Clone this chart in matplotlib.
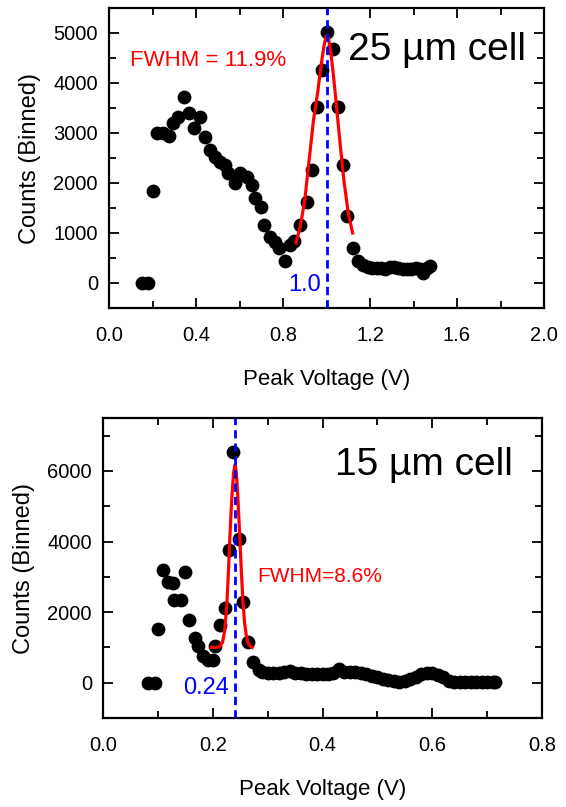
import matplotlib
matplotlib.use("Agg")
import matplotlib.pyplot as plt
from matplotlib.ticker import MultipleLocator

plt.rcParams['font.family'] = ['Liberation Sans', 'DejaVu Sans']

# ---- 25 um cell (top) ----
v25 = [0.150, 0.180, 0.204, 0.219, 0.250, 0.276, 0.293, 0.319, 0.346, 0.369,
       0.392, 0.418, 0.441, 0.464, 0.487, 0.510, 0.533, 0.549, 0.579, 0.602,
       0.633, 0.656, 0.671, 0.699, 0.713, 0.740, 0.763, 0.783, 0.809, 0.830,
       0.852, 0.880, 0.909, 0.932, 0.955, 0.978, 1.000, 1.031, 1.054, 1.074,
       1.096, 1.120, 1.146, 1.170, 1.190, 1.210, 1.230, 1.250, 1.270, 1.290,
       1.310, 1.330, 1.350, 1.370, 1.390, 1.410, 1.430, 1.445, 1.460, 1.476]
c25 = [0, 0, 1846, 2993, 3000, 2940, 3193, 3327, 3727, 3393,
       3093, 3313, 2927, 2660, 2527, 2427, 2360, 2193, 1993, 2193,
       2127, 1960, 1693, 1527, 1160, 913, 827, 693, 447, 770,
       840, 1160, 1627, 2260, 3527, 4260, 5013, 4673, 3513, 2360,
       1340, 700, 450, 370, 330, 310, 300, 300, 290, 320,
       330, 300, 290, 290, 280, 300, 280, 200, 300, 350]
fit25_v = [0.860, 0.880, 0.900, 0.920, 0.940, 0.960, 0.970, 0.980, 0.990, 1.000,
           1.010, 1.020, 1.030, 1.040, 1.060, 1.080, 1.100, 1.120]
fit25_c = [800, 1150, 1650, 2450, 3250, 3830, 4180, 4500, 4780, 4950,
           4880, 4600, 4230, 3800, 2900, 2050, 1400, 1000]

# ---- 15 um cell (bottom) ----
v15 = [0.082, 0.094, 0.100, 0.109, 0.118, 0.127, 0.130, 0.1425, 0.150, 0.156,
       0.167, 0.173, 0.182, 0.191, 0.200, 0.205, 0.213, 0.223, 0.2305, 0.2377,
       0.247, 0.256, 0.264, 0.273, 0.285,
       0.29, 0.30, 0.31, 0.32, 0.33, 0.34, 0.35, 0.36, 0.37, 0.38,
       0.39, 0.40, 0.41, 0.42, 0.43, 0.44, 0.45, 0.46, 0.47, 0.48,
       0.49, 0.50, 0.51, 0.52, 0.53, 0.54, 0.55, 0.56, 0.57, 0.58,
       0.59, 0.60, 0.61, 0.62, 0.63, 0.64, 0.65, 0.66, 0.67, 0.68,
       0.69, 0.70, 0.71, 0.715]
c15 = [0, 0, 1520, 3200, 2867, 2820, 2350, 2350, 3130, 1780,
       1265, 1030, 745, 650, 630, 1047, 1640, 2114, 3765, 6547,
       4067, 2300, 1150, 575, 350,
       300, 280, 270, 280, 290, 320, 280, 270, 260, 250,
       250, 260, 260, 270, 400, 300, 290, 290, 280, 240,
       200, 160, 110, 80, 40, 30, 50, 100, 170, 240,
       280, 280, 220, 170, 60, 20, 10, 10, 10, 10,
       10, 10, 10, 10]
fit15_v = [0.197, 0.205, 0.212, 0.218, 0.222, 0.226, 0.229, 0.232, 0.235, 0.238,
           0.2405, 0.243, 0.246, 0.249, 0.252, 0.255, 0.258, 0.261, 0.264, 0.268,
           0.272]
fit15_c = [1000, 1000, 1020, 1150, 1500, 2300, 3300, 4400, 5300, 5950,
           6170, 5950, 5200, 4200, 3200, 2300, 1700, 1350, 1150, 1040,
           1000]

fig = plt.figure(figsize=(5.66, 8.07), dpi=100)
ax1 = fig.add_axes([109 / 566, 1 - 308 / 807, 435 / 566, 300 / 807])
ax2 = fig.add_axes([103 / 566, 1 - 718 / 807, 439 / 566, 300 / 807])


def style(ax):
    for s in ax.spines.values():
        s.set_linewidth(1.6)
    ax.tick_params(which='both', direction='in', top=True, right=True,
                   width=1.3, labelsize=14.5)
    ax.tick_params(which='major', length=7)
    ax.tick_params(which='minor', length=5)
    ax.tick_params(axis='x', which='major', pad=13)
    ax.tick_params(axis='y', which='major', pad=8)
    ax.set_xlabel('Peak Voltage (V)', fontsize=16, labelpad=17)
    ax.set_ylabel('Counts (Binned)', fontsize=17, labelpad=9)


# top panel
ax1.scatter(v25, c25, s=80, color='black', zorder=3)
ax1.plot(fit25_v, fit25_c, color='red', lw=2.3, zorder=4)
ax1.axvline(1.0, color='blue', lw=2, ls=(0, (3, 1.8)), zorder=5)
ax1.set_xlim(0, 2.0)
ax1.set_ylim(-500, 5500)
ax1.xaxis.set_major_locator(MultipleLocator(0.4))
ax1.xaxis.set_minor_locator(MultipleLocator(0.2))
ax1.yaxis.set_major_locator(MultipleLocator(1000))
ax1.yaxis.set_minor_locator(MultipleLocator(500))
ax1.text(0.097, 4460, 'FWHM = 11.9%', color='red', fontsize=16, ha='left', va='center')
ax1.text(1.10, 4660, '25 µm cell', color='black', fontsize=28, ha='left', va='center')
ax1.text(0.975, -40, '1.0', color='blue', fontsize=17, ha='right', va='center')
style(ax1)

# bottom panel
ax2.scatter(v15, c15, s=80, color='black', zorder=3)
ax2.plot(fit15_v, fit15_c, color='red', lw=2.3, zorder=4)
ax2.axvline(0.24, color='blue', lw=2, ls=(0, (3, 1.8)), zorder=5)
ax2.set_xlim(0, 0.8)
ax2.set_ylim(-1000, 7500)
ax2.xaxis.set_major_locator(MultipleLocator(0.2))
ax2.xaxis.set_minor_locator(MultipleLocator(0.1))
ax2.yaxis.set_major_locator(MultipleLocator(2000))
ax2.yaxis.set_minor_locator(MultipleLocator(1000))
ax2.text(0.423, 6170, '15 µm cell', color='black', fontsize=28, ha='left', va='center')
ax2.text(0.281, 3000, 'FWHM=8.6%', color='red', fontsize=15, ha='left', va='center')
ax2.text(0.2305, -150, '0.24', color='blue', fontsize=17, ha='right', va='center')
style(ax2)

fig.savefig('out.png', dpi=100)
